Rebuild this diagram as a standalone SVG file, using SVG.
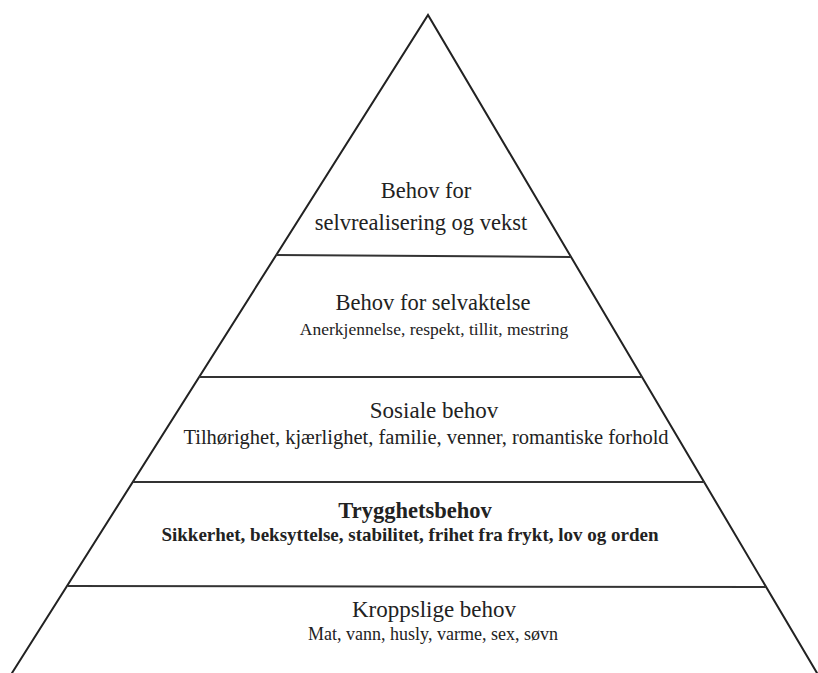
<svg xmlns="http://www.w3.org/2000/svg" width="818" height="673" viewBox="0 0 818 673">
<style>
.edge{stroke:#222;stroke-width:2;fill:none;stroke-linecap:round}
.sep{stroke:#333;stroke-width:2;fill:none}
.t{font-family:"Liberation Serif","Times New Roman",serif;fill:#222;text-anchor:middle}
.h{font-size:22.5px}
.s{font-size:17.5px}
.b{font-weight:bold}
</style>
<rect width="818" height="673" fill="#fff"/>
<g id="connectors">
<path class="edge" d="M12,673 L428,15 L817,673"/>
<line class="sep" x1="276" y1="255" x2="571" y2="257"/>
<line class="sep" x1="199" y1="377" x2="642" y2="377"/>
<line class="sep" x1="133" y1="482" x2="705" y2="482"/>
<line class="sep" x1="68" y1="586" x2="766" y2="587"/>
</g>
<g id="level1">
<text class="t h" x="426" y="198">Behov for</text>
<text class="t h" x="421" y="230">selvrealisering og vekst</text>
</g>
<g id="level2">
<text class="t h" x="433" y="310">Behov for selvaktelse</text>
<text class="t s" x="434" y="335">Anerkjennelse, respekt, tillit, mestring</text>
</g>
<g id="level3">
<text class="t" x="434" y="418" style="font-size:23px">Sosiale behov</text>
<text class="t" x="426" y="444" style="font-size:20.5px">Tilhørighet, kjærlighet, familie, venner, romantiske forhold</text>
</g>
<g id="level4">
<text class="t h b" x="415" y="518">Trygghetsbehov</text>
<text class="t b" x="410" y="541" style="font-size:19px">Sikkerhet, beksyttelse, stabilitet, frihet fra frykt, lov og orden</text>
</g>
<g id="level5">
<text class="t" x="434" y="617" style="font-size:23px">Kroppslige behov</text>
<text class="t" x="433" y="640" style="font-size:18px">Mat, vann, husly, varme, sex, søvn</text>
</g>
</svg>
